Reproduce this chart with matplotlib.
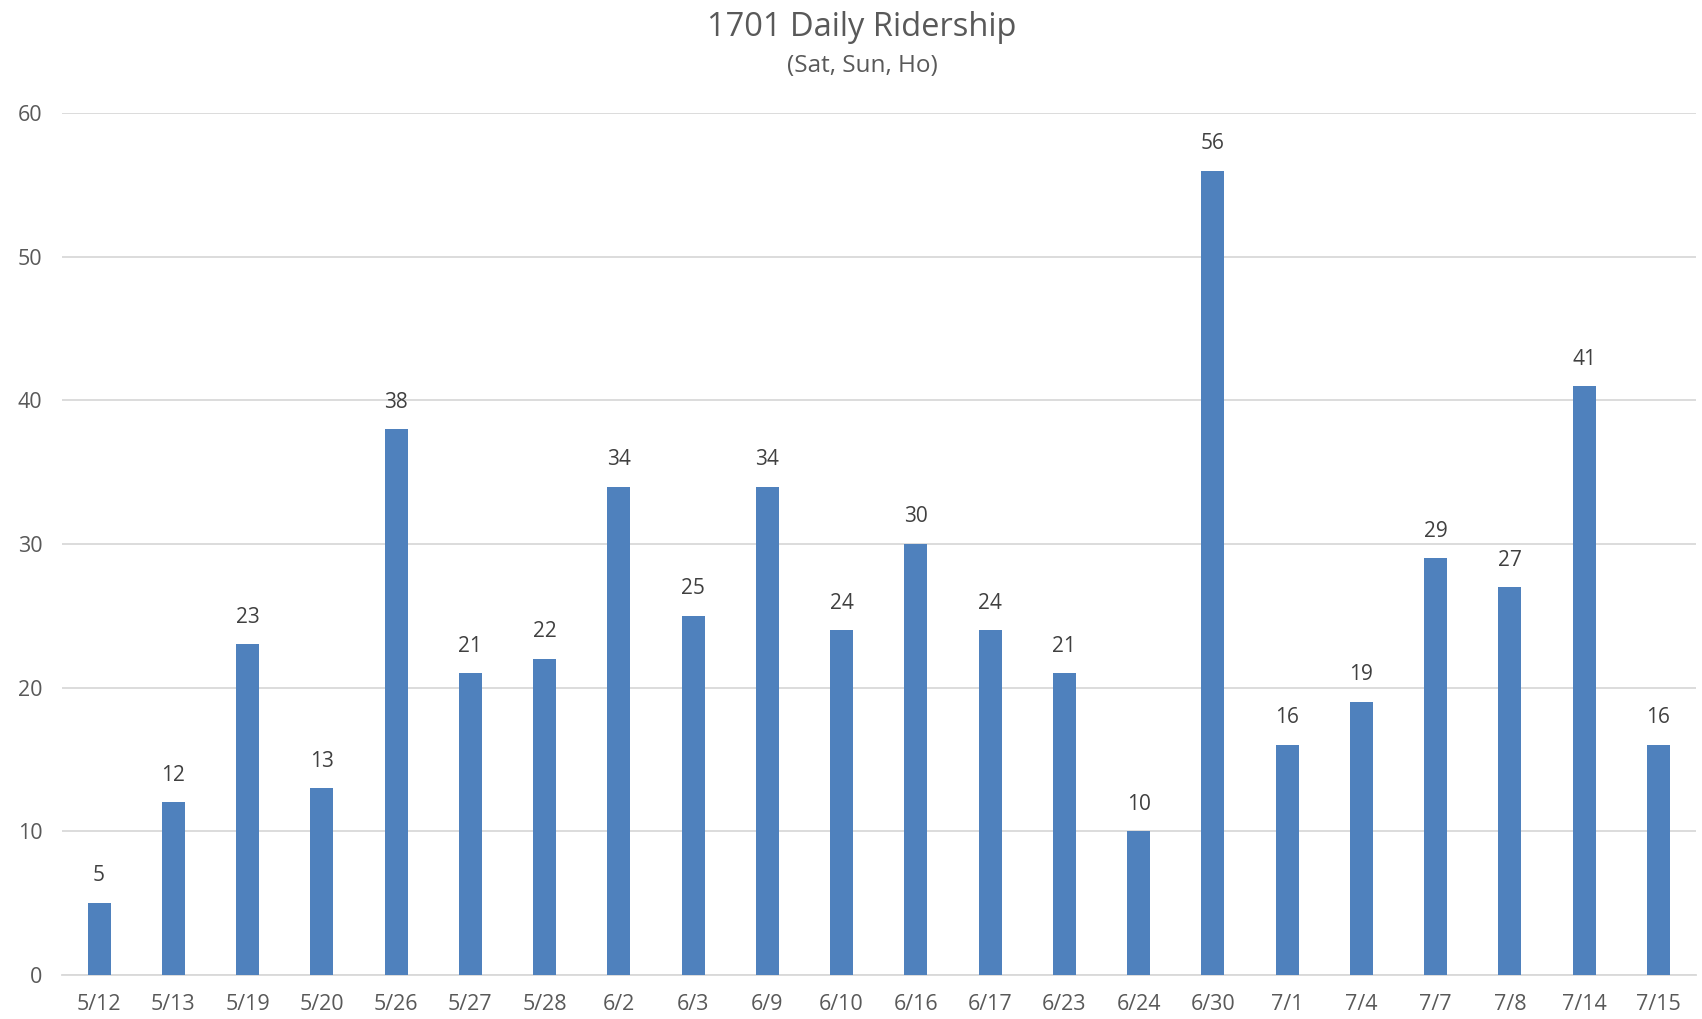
import numpy as np
import matplotlib.pyplot as plt

dates = ['5/12', '5/13', '5/19', '5/20', '5/26', '5/27', '5/28', '6/2', '6/3', '6/9', '6/10',
         '6/16', '6/17', '6/23', '6/24', '6/30', '7/1', '7/4', '7/7', '7/8', '7/14', '7/15']
riders = [5, 12, 23, 13, 38, 21, 22, 34, 25, 34, 24, 30, 24, 21, 10, 56, 16, 19, 29, 27, 41, 16]
y_ticks = [0, 10, 20, 30, 40, 50, 60]

plt.rcParams['font.family'] = ['Open Sans', 'DejaVu Sans']
GREY = '#595959'

fig = plt.figure(figsize=(17.02, 10.19), dpi=100)
ax = fig.add_axes([0.0364, 0.0435, 0.9598, 0.8453])

x = np.arange(len(dates))
ax.bar(x, riders, width=0.31, color='#4F81BD', zorder=3)
for xi, v in zip(x, riders):
    ax.annotate(str(v), xy=(xi, v), xytext=(0, 27), textcoords='offset pixels',
                ha='center', va='center', fontsize=15, color='#404040')

ax.set_xlim(-0.5, len(dates) - 0.5)
ax.set_ylim(0, 60)
ax.set_yticks(y_ticks)
ax.set_xticks(x)
ax.set_xticklabels(dates)
ax.grid(axis='y', color='#D9D9D9', linewidth=1.3, zorder=0)
for s in ['top', 'right', 'left']:
    ax.spines[s].set_visible(False)
ax.spines['bottom'].set_color('#D9D9D9')
ax.spines['bottom'].set_linewidth(1.3)
ax.tick_params(axis='both', length=0, labelsize=15.5, labelcolor=GREY)
ax.tick_params(axis='x', pad=14)
ax.tick_params(axis='y', pad=14)

# title block sits a little right of the figure centre, as in the source
fig.text(0.5065, 1 - 27 / 1019, '1701 Daily Ridership', ha='center', va='center',
         fontsize=23.5, color=GREY)
fig.text(0.5065, 1 - 66 / 1019, '(Sat, Sun, Ho)', ha='center', va='center',
         fontsize=17.5, color=GREY)

fig.savefig('out.png', dpi=100)
